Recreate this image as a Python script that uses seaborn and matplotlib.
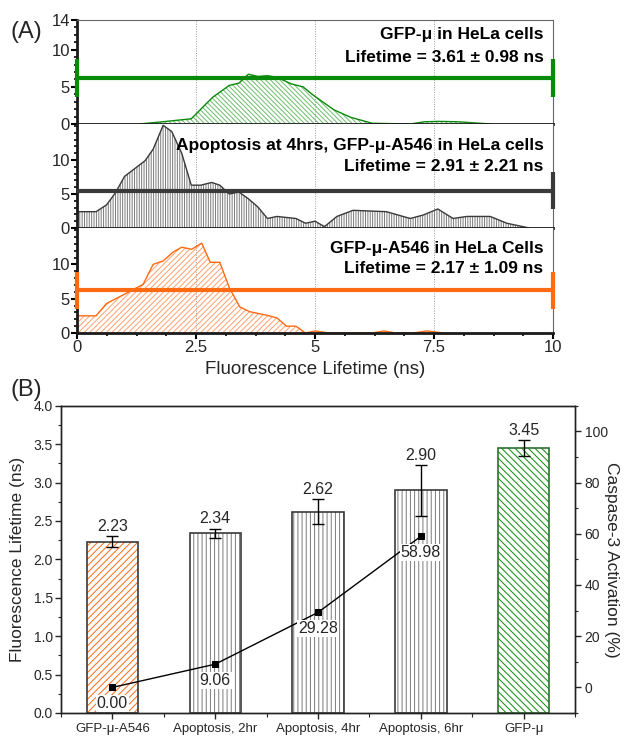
import numpy as np
import pandas as pd
import matplotlib
matplotlib.use('Agg')
import matplotlib.pyplot as plt
import seaborn as sns
from matplotlib.ticker import MultipleLocator

sns.set_theme(style='ticks')
plt.rcParams['font.family'] = ['Liberation Sans', 'DejaVu Sans']
plt.rcParams['hatch.linewidth'] = 0.7

# ---------------- data: panel A (lifetime distributions) ----------------
green_x = [1.3, 1.8, 2.4, 2.85, 3.2, 3.4, 3.6, 3.8, 4.0, 4.2, 4.5, 4.75, 4.96, 5.2, 5.4, 5.75, 6.2, 7.0, 7.3, 7.6, 8.0, 8.7]
green_y = [0.0, 0.3, 0.7, 3.6, 5.2, 5.5, 6.7, 6.4, 6.5, 6.3, 5.4, 5.0, 3.9, 2.8, 1.9, 0.9, 0.1, 0.0, 0.3, 0.35, 0.3, 0.0]

gray_x = [0, 0.4, 0.62, 0.8, 1.0, 1.43, 1.6, 1.81, 1.99, 2.2, 2.4, 2.6, 2.83, 3.0, 3.2, 3.4, 3.6, 3.8, 4.0, 4.2,
          4.6, 4.8, 5.0, 5.2, 5.46, 5.8, 6.5, 7.0, 7.27, 7.58, 7.9, 8.19, 8.68, 9.03, 9.5]
gray_y = [2.4, 2.4, 3.4, 5.1, 7.6, 9.9, 11.6, 15.1, 14.2, 11.0, 6.3, 6.3, 6.7, 6.3, 5.0, 5.3, 4.3, 3.1, 1.4, 1.7,
          1.4, 0.7, 1.0, 0.2, 1.7, 2.6, 2.4, 1.4, 1.9, 2.8, 1.4, 1.7, 1.7, 0.7, 0.0]

orange_x = [0, 0.4, 0.62, 1.04, 1.39, 1.6, 1.81, 2.02, 2.2, 2.41, 2.62, 2.8, 3.0, 3.2, 3.42, 3.63, 3.98, 4.2, 4.4,
            4.6, 4.8, 5.0, 5.3, 6.2, 6.45, 6.7, 7.05, 7.35, 7.7]
orange_y = [2.5, 2.5, 4.3, 5.8, 7.1, 10.0, 10.5, 11.8, 12.5, 12.2, 13.1, 10.3, 10.3, 6.6, 3.8, 3.1, 2.6, 2.2, 1.0,
            1.0, 0.0, 0.3, 0.0, 0.0, 0.3, 0.0, 0.0, 0.3, 0.0]

panel_titles = ["GFP-μ in HeLa cells", "Apoptosis at 4hrs, GFP-μ-A546 in HeLa cells", "GFP-μ-A546 in HeLa Cells"]
panel_lifetimes = ["Lifetime = 3.61 ± 0.98 ns", "Lifetime = 2.91 ± 2.21 ns", "Lifetime = 2.17 ± 1.09 ns"]
band_level = [6.2, 5.5, 6.2]
band_half = [2.5, 2.7, 2.75]

# ---------------- data: panel B ----------------
categories = ["GFP-μ-A546", "Apoptosis, 2hr", "Apoptosis, 4hr", "Apoptosis, 6hr", "GFP-μ"]
lifetimes = [2.23, 2.34, 2.62, 2.90, 3.45]
lifetime_err = [0.07, 0.06, 0.16, 0.33, 0.10]
caspase_cats = [0, 1, 2, 3]
caspase = [0.00, 9.06, 29.28, 58.98]

GREEN = '#0a8a0a'
GREEN_L = '#6cbc6c'
GRAY = '#3a3a3a'
GRAY_L = '#7a7a7a'
ORANGE = '#ff6a13'
ORANGE_L = '#ffa070'

W, H = 627, 737
fig = plt.figure(figsize=(W / 100, H / 100), dpi=100)
fig.patch.set_facecolor('white')

def fx(px):
    return px / W

def fy(py):
    return 1 - py / H

x0, x1 = 77, 553
bounds = [(20, 124), (124, 228), (228, 333)]
series = [(green_x, green_y, GREEN, GREEN_L, '\\\\\\\\\\\\\\'),
          (gray_x, gray_y, GRAY, GRAY_L, '|||||||'),
          (orange_x, orange_y, ORANGE, ORANGE_L, '//////')]
ylims = [14, 15.3, 15.3]

for i, ((top, bot), (xs, ys, c, cl, hatch)) in enumerate(zip(bounds, series)):
    ax = fig.add_axes([fx(x0), fy(bot), fx(x1 - x0), (bot - top) / H])
    ax.set_xlim(0, 10)
    ax.set_ylim(0, ylims[i])
    for gx in [2.5, 5, 7.5]:
        ax.axvline(gx, color='#999999', ls=(0, (1, 1.5)), lw=0.7, zorder=0)
    ax.fill_between(xs, 0, ys, facecolor='none', edgecolor=cl, hatch=hatch, linewidth=0, zorder=1)
    sns.lineplot(x=xs, y=ys, ax=ax, color=c, lw=1.0, estimator=None, sort=False, zorder=2)
    # mean level line with end bars
    ax.plot([0, 10], [band_level[i], band_level[i]], color=c, lw=3, zorder=3, solid_capstyle='butt', clip_on=False)
    ends = [10] if i == 1 else [0, 10]
    ax.errorbar(ends, [band_level[i]] * len(ends), yerr=band_half[i], fmt='none', ecolor=c,
                elinewidth=3, capsize=0, zorder=3, clip_on=False)
    tpos = [(0.856, 0.644), (0.798, 0.596), (0.80, 0.619)][i]
    ax.text(0.98, tpos[0], panel_titles[i], transform=ax.transAxes, ha='right', va='center',
            fontsize=12.5, fontweight='bold', color='black', zorder=5)
    ax.text(0.98, tpos[1], panel_lifetimes[i], transform=ax.transAxes, ha='right', va='center',
            fontsize=12.5, fontweight='bold', color='black', zorder=5)
    yt = [0, 5, 10, 14] if i == 0 else [0, 5, 10]
    ax.set_yticks(yt)
    ax.set_yticklabels([str(v) for v in yt])
    ax.yaxis.set_minor_locator(MultipleLocator(1))
    ax.xaxis.set_major_locator(MultipleLocator(2.5))
    ax.xaxis.set_minor_locator(MultipleLocator(0.625))
    ax.tick_params(axis='y', which='major', length=4, width=1.5, labelsize=12, pad=1, color='black')
    ax.tick_params(axis='y', which='minor', length=2.5, width=1.2, color='black')
    for s in ['left', 'bottom']:
        ax.spines[s].set_linewidth(2)
        ax.spines[s].set_color('#1a1a1a')
    ax.spines['right'].set_linewidth(0.8)
    ax.spines['right'].set_color('#666666')
    ax.spines['top'].set_linewidth(0.8)
    ax.spines['top'].set_color('#666666')
    ax.set_xlabel('')
    ax.set_ylabel('')
    if i < 2:
        ax.tick_params(axis='x', which='both', length=0, labelbottom=False)
        ax.spines['bottom'].set_zorder(4)
    else:
        ax.set_xticks([0, 2.5, 5, 7.5, 10])
        ax.set_xticklabels(['0', '2.5', '5', '7.5', '10'])
        ax.tick_params(axis='x', which='major', length=4, width=1.5, labelsize=12, pad=1, color='black')
        ax.tick_params(axis='x', which='minor', length=2.5, width=1.2, color='black')
        ax.set_xlabel('Fluorescence Lifetime (ns)', fontsize=13.5, labelpad=4)
    if i > 0:
        ax.spines['top'].set_visible(False)

fig.text(fx(11), fy(32), '(A)', fontsize=17, ha='left', va='center')
fig.text(fx(11), fy(390), '(B)', fontsize=17, ha='left', va='center')

# ---------------- panel B ----------------
axb = fig.add_axes([fx(61), fy(713), fx(575 - 61), (713 - 405.7) / H])
hatch_cols = [ORANGE, GRAY_L, GRAY_L, GRAY_L, GREEN]
edge_cols = [GRAY, GRAY, GRAY, GRAY, '#2f6f2f']
hatches = ['/////', '||||', '||||', '||||', '\\\\\\\\\\']
df = pd.DataFrame({'cat': categories, 'val': lifetimes})
sns.barplot(data=df, x='cat', y='val', hue='cat', palette=hatch_cols, width=0.5, ax=axb,
            legend=False, saturation=1, linewidth=0, zorder=1)
for p, hc, h in zip(axb.patches, hatch_cols, hatches):
    p.set_facecolor('white')
    p.set_edgecolor(hc)
    p.set_hatch(h)
    p.set_linewidth(0)
sns.barplot(data=df, x='cat', y='val', hue='cat', palette=edge_cols, width=0.5, ax=axb,
            legend=False, saturation=1, fill=False, linewidth=1.2, zorder=2)
axb.errorbar(np.arange(len(categories)), lifetimes, yerr=lifetime_err, fmt='none', ecolor='black',
             elinewidth=1, capsize=4, capthick=1, zorder=3)
for k, (v, e) in enumerate(zip(lifetimes, lifetime_err)):
    axb.text(k, v + e + 0.03, f'{v:.2f}', ha='center', va='bottom', fontsize=11.5, zorder=4)
axb.set_xlim(-0.5, 4.5)
axb.set_ylim(0, 4.0)
axb.set_yticks(np.arange(0, 4.01, 0.5))
axb.set_yticklabels([f'{v:.1f}' for v in np.arange(0, 4.01, 0.5)])
axb.yaxis.set_minor_locator(MultipleLocator(0.25))
axb.xaxis.set_minor_locator(MultipleLocator(0.5))
axb.tick_params(axis='y', which='major', length=4, width=1, labelsize=10, pad=2)
axb.tick_params(axis='y', which='minor', length=2.5, width=0.8)
axb.tick_params(axis='x', which='major', length=4, width=1, labelsize=9.5, pad=3)
axb.tick_params(axis='x', which='minor', length=3, width=0.8)
axb.set_xlabel('')
axb.set_ylabel('Fluorescence Lifetime (ns)', fontsize=12.5, labelpad=6)
for s in axb.spines.values():
    s.set_linewidth(1.0)
    s.set_color('#222222')

axr = axb.twinx()
sns.lineplot(x=caspase_cats, y=caspase, ax=axr, color='black', lw=1, marker='s', markersize=5,
             markeredgecolor='black', estimator=None, zorder=5)
for k, v in zip(caspase_cats, caspase):
    axr.text(k, v - 6.3, f'{v:.2f}', ha='center', va='center', fontsize=11.5, zorder=6,
             bbox=dict(facecolor='white', edgecolor='none', pad=0.6))
axr.set_ylim(-10, 110)
axr.set_yticks([0, 20, 40, 60, 80, 100])
axr.yaxis.set_minor_locator(MultipleLocator(10))
axr.tick_params(axis='y', which='major', length=4, width=1, labelsize=10, pad=3)
axr.tick_params(axis='y', which='minor', length=2.5, width=0.8)
axr.set_ylabel('Caspase-3 Activation (%)', fontsize=12.5, rotation=270, va='center', ha='center')
axr.yaxis.set_label_coords((612 - 61) / 514, 0.5)
for s in axr.spines.values():
    s.set_linewidth(1.0)
    s.set_color('#222222')

fig.savefig('out.png', dpi=100, facecolor='white')
